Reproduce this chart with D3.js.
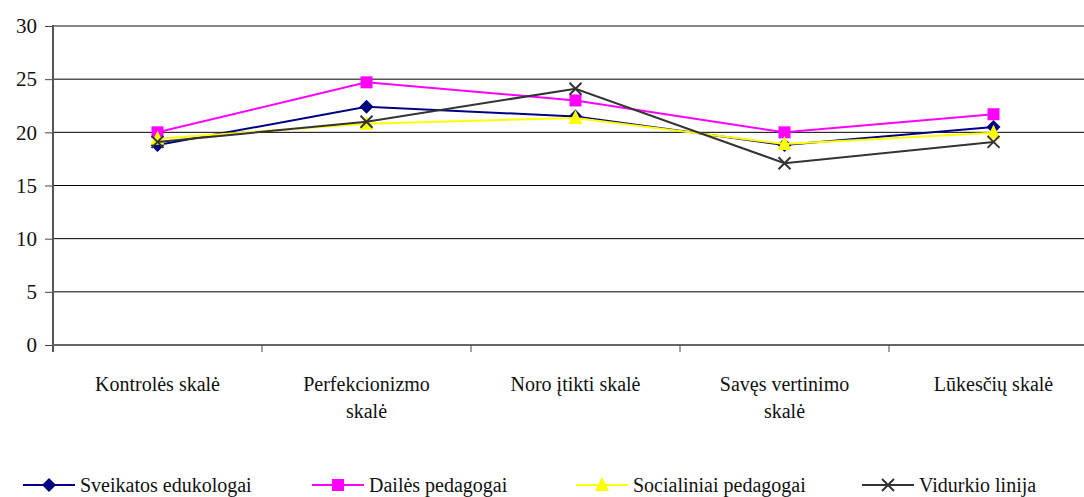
<!DOCTYPE html>
<html>
<meta charset="utf-8">
<script src="https://cdn.jsdelivr.net/npm/d3@7"></script>
<style>
  body { margin: 0; background: white; }
  svg text, svg tspan { font-family: "Liberation Serif", "Times New Roman", serif !important; }
</style>
<body>
<svg id="chart" width="1084" height="497" font-family="Liberation Serif"></svg>
<script>

var categories = ["Kontrolės skalė", "Perfekcionizmo skalė", "Noro įtikti skalė", "Savęs vertinimo skalė", "Lūkesčių skalė"]
var yTicks = [0, 5, 10, 15, 20, 25, 30]

var sveikatos = [18.8, 22.4, 21.5, 18.8, 20.5]
var dailes = [20.0, 24.7, 23.0, 20.0, 21.7]
var socialiniai = [19.4, 20.8, 21.35, 18.9, 19.95]
var vidurkio = [19.1, 21.0, 24.1, 17.1, 19.1]

var seriesNames = ["Sveikatos edukologai", "Dailės pedagogai", "Socialiniai pedagogai", "Vidurkio linija"]

var series = [
  {name: seriesNames[0], values: sveikatos, color: "#000080", marker: "diamond"},
  {name: seriesNames[1], values: dailes, color: "#ff00ff", marker: "square"},
  {name: seriesNames[2], values: socialiniai, color: "#ffff00", marker: "triangle"},
  {name: seriesNames[3], values: vidurkio, color: "#333333", marker: "cross"}
]

var serif = "Liberation Serif"
var width = 1084, height = 497
var margin = {left: 53, top: 26}
var plotBottom = 345
var bandW = 209

var svg = d3.select("#chart")

var x = d3.scaleBand()
  .domain(categories)
  .range([margin.left, margin.left + bandW * categories.length])

var y = d3.scaleLinear()
  .domain([0, 30])
  .range([plotBottom, margin.top])

// gridlines
svg.append("g").selectAll("line")
  .data(yTicks.filter(function(d){ return d > 0 }))
  .enter().append("line")
  .attr("x1", margin.left).attr("x2", width)
  .attr("y1", function(d){ return y(d) }).attr("y2", function(d){ return y(d) })
  .attr("stroke", function(d){ return d == 30 ? "#888" : "#000" })
  .attr("stroke-width", function(d){ return d == 30 ? 2 : 1 })

// y axis
var yAxis = svg.append("g")
  .attr("transform", "translate(" + margin.left + ",0)")
  .call(d3.axisLeft(y).tickValues(yTicks).tickSize(8).tickPadding(8))
yAxis.attr("font-family", serif).attr("font-size", 21)
yAxis.select(".domain").remove()
yAxis.selectAll(".tick line").attr("stroke", "#444")
yAxis.selectAll(".tick text")
  .attr("fill", "#111")
  .style("font-family", serif, "important")

svg.append("line")
  .attr("x1", margin.left).attr("x2", margin.left)
  .attr("y1", margin.top - 1).attr("y2", plotBottom + 7)
  .attr("stroke", "#555").attr("stroke-width", 2)

// x axis
svg.append("line")
  .attr("x1", margin.left).attr("x2", width)
  .attr("y1", plotBottom).attr("y2", plotBottom)
  .attr("stroke", "#666").attr("stroke-width", 2)

svg.append("g").selectAll("line")
  .data(categories.slice(1))
  .enter().append("line")
  .attr("x1", function(d){ return x(d) }).attr("x2", function(d){ return x(d) })
  .attr("y1", plotBottom).attr("y2", plotBottom + 7)
  .attr("stroke", "#444")

// category labels, long ones on two lines
function wrapLabel(t) {
  var words = t.split(" ")
  if (t.length > 18) {
    return [words.slice(0, words.length - 1).join(" "), words[words.length - 1]]
  }
  return [t]
}

var lab = svg.append("g").selectAll("text")
  .data(categories)
  .enter().append("text")
  .attr("x", function(d){ return x(d) + x.bandwidth() / 2 })
  .attr("y", 391)
  .attr("text-anchor", "middle")
  .attr("fill", "#111")
  .attr("font-family", serif)
  .attr("font-size", 20)
  .style("font-family", serif, "important")
lab.each(function(d){
  var el = d3.select(this)
  wrapLabel(d).forEach(function(line, i){
    el.append("tspan")
      .attr("x", x(d) + x.bandwidth() / 2)
      .attr("dy", i == 0 ? 0 : 27)
      .text(line)
  })
})

// markers
function drawMarker(g, type, color, cx, cy) {
  if (type == "diamond") {
    g.append("path").attr("d", "M" + cx + "," + (cy - 7) + "L" + (cx + 7) + "," + cy + "L" + cx + "," + (cy + 7) + "L" + (cx - 7) + "," + cy + "Z")
      .attr("fill", color)
  } else if (type == "square") {
    g.append("rect").attr("x", cx - 6).attr("y", cy - 6).attr("width", 12).attr("height", 12)
      .attr("fill", color)
  } else if (type == "triangle") {
    g.append("path").attr("d", "M" + cx + "," + (cy - 8) + "L" + (cx + 7) + "," + (cy + 6) + "L" + (cx - 7) + "," + (cy + 6) + "Z")
      .attr("fill", color)
  } else {
    g.append("path").attr("d", "M" + (cx - 6) + "," + (cy - 6) + "L" + (cx + 6) + "," + (cy + 6) + "M" + (cx + 6) + "," + (cy - 6) + "L" + (cx - 6) + "," + (cy + 6))
      .attr("stroke", color).attr("stroke-width", 2).attr("fill", "none")
  }
}

var line = d3.line()
  .x(function(d, i){ return x(categories[i]) + x.bandwidth() / 2 })
  .y(function(d){ return y(d) })

series.forEach(function(s){
  var g = svg.append("g")
  g.append("path")
    .datum(s.values)
    .attr("d", line)
    .attr("fill", "none")
    .attr("stroke", s.color)
    .attr("stroke-width", 2)
  s.values.forEach(function(v, i){
    drawMarker(g, s.marker, s.color, x(categories[i]) + x.bandwidth() / 2, y(v))
  })
})

// legend
var legendX = [23, 312, 576, 862]
series.forEach(function(s, i){
  var g = svg.append("g").attr("transform", "translate(" + legendX[i] + ",485)")
  g.append("line").attr("x1", 0).attr("x2", 52).attr("y1", 0).attr("y2", 0)
    .attr("stroke", s.color).attr("stroke-width", 2)
  drawMarker(g, s.marker, s.color, 26, 0)
  g.append("text").attr("x", 57).attr("y", 7)
    .attr("fill", "#111")
    .attr("font-family", serif)
    .attr("font-size", 20)
    .style("font-family", serif, "important")
    .text(s.name)
})

</script>
</body>
</html>
